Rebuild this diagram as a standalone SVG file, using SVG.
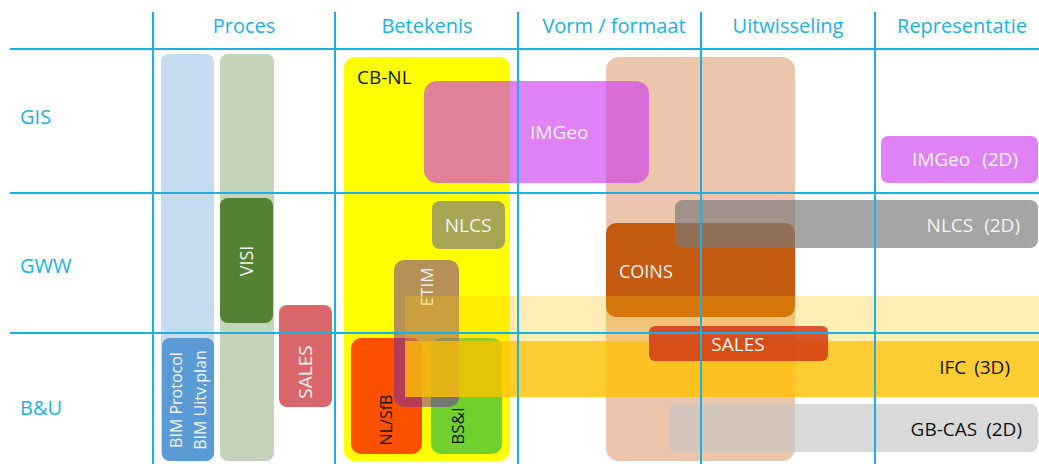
<svg xmlns="http://www.w3.org/2000/svg" width="1039" height="464" viewBox="0 0 1039 464">
<style>
text{font-family:"Open Sans","Noto Sans","DejaVu Sans",sans-serif}
.hd{font-size:20px;fill:#1BB1E7;text-anchor:middle}
.row{font-size:20px;fill:#1BB1E7}
.lw{font-size:19px;fill:#F4F4F4}
.lb{font-size:19px;fill:#111}
.grid{stroke:#1BB1E7;stroke-width:2;fill:none}
</style>
<rect width="1039" height="464" fill="#fff"/>
<g id="proces-bim-col"><rect x="161" y="54" width="53" height="407" rx="8" fill="#C5DBEF"/></g>
<g id="proces-visi-col"><rect x="220" y="54" width="54" height="407" rx="8" fill="#C4D4BA"/></g>
<g id="visi"><rect x="220" y="198" width="53" height="125" rx="8" fill="#548235"/>
<text class="lw" style="font-size:18px" transform="translate(253,261) rotate(-90)" text-anchor="middle">VISI</text></g>
<g id="sales-proces"><rect x="279" y="305" width="53" height="102" rx="8" fill="#D9666A"/>
<text class="lw" transform="translate(312,372) rotate(-90)" text-anchor="middle">SALES</text></g>
<g id="bim"><rect x="162" y="338" width="52" height="123" rx="8" fill="#5B9BD5"/>
<text class="lw" style="font-size:16px" transform="translate(182,400) rotate(-90)" text-anchor="middle">BIM Protocol</text>
<text class="lw" style="font-size:16px" transform="translate(206,400) rotate(-90)" text-anchor="middle">BIM Uitv.plan</text></g>
<g id="cb-nl"><rect x="344" y="57" width="166" height="404" rx="11" fill="#FFFF00"/>
<text class="lb" x="357" y="84">CB-NL</text></g>
<g id="vorm-col"><rect x="606" y="57" width="189" height="404" rx="13" fill="#C55A11" fill-opacity="0.35"/></g>
<g id="nlcs"><rect x="432" y="201" width="73" height="48" rx="8" fill="#7B7B7B" fill-opacity="0.68"/>
<text class="lw" x="468" y="232" text-anchor="middle">NLCS</text></g>
<g id="nl-sfb"><rect x="351" y="338" width="71" height="116" rx="10" fill="#FF5000"/>
<text class="lb" style="font-size:16px" transform="translate(392,420) rotate(-90)" text-anchor="middle">NL/SfB</text></g>
<g id="bs-i"><rect x="431" y="338" width="71" height="116" rx="10" fill="#70D02E"/>
<text class="lb" style="font-size:17px" transform="translate(464,426) rotate(-90)" text-anchor="middle">BS&amp;I</text></g>
<g id="etim"><rect x="394" y="260" width="65" height="147" rx="10" fill="#6F27AB" fill-opacity="0.51"/>
<text class="lw" style="font-size:17px" transform="translate(433,287) rotate(-90)" text-anchor="middle">ETIM</text></g>
<g id="coins"><rect x="606" y="223" width="189" height="94" rx="10" fill="#C55A11"/>
<text class="lw" style="font-size:18px" x="619" y="278">COINS</text></g>
<g id="band-light"><rect x="405" y="296" width="640" height="45" fill="#FFC000" fill-opacity="0.29"/></g>
<g id="ifc"><rect x="405" y="341" width="640" height="56" fill="#FFC000" fill-opacity="0.8"/>
<text class="lb" x="1010" y="374" text-anchor="end" word-spacing="3">IFC (3D)</text></g>
<g id="nlcs-2d"><rect x="675" y="200" width="363" height="48" rx="8" fill="#7B7B7B" fill-opacity="0.68"/>
<text class="lw" x="1020" y="232" text-anchor="end" word-spacing="6">NLCS (2D)</text></g>
<g id="imgeo"><rect x="424" y="81" width="225" height="102" rx="13" fill="#CE39EF" fill-opacity="0.63"/>
<text class="lw" x="530" y="139">IMGeo</text></g>
<g id="imgeo-2d"><rect x="881" y="136" width="157" height="47" rx="7" fill="#CE39EF" fill-opacity="0.63"/>
<text class="lw" x="1018" y="166" text-anchor="end" word-spacing="7">IMGeo (2D)</text></g>
<g id="sales-uitwisseling"><rect x="649" y="326" width="179" height="35" rx="6" fill="#D23A12" fill-opacity="0.85"/>
<text class="lw" x="738" y="351" text-anchor="middle">SALES</text></g>
<g id="gb-cas"><rect x="669" y="404" width="369" height="48" rx="8" fill="#C5C5C5" fill-opacity="0.65"/>
<text class="lb" x="1022" y="436" text-anchor="end" word-spacing="4">GB-CAS (2D)</text></g>
<g id="headers">
<text class="hd" x="244" y="33">Proces</text>
<text class="hd" x="427" y="33">Betekenis</text>
<text class="hd" x="614" y="33">Vorm / formaat</text>
<text class="hd" x="788" y="33">Uitwisseling</text>
<text class="hd" x="962" y="33">Representatie</text>
<text class="row" x="20" y="124">GIS</text>
<text class="row" x="20" y="273">GWW</text>
<text class="row" x="20" y="415">B&amp;U</text>
</g>
<g id="grid" class="grid">
<line x1="10" y1="49" x2="1039" y2="49"/>
<line x1="10" y1="193" x2="1039" y2="193"/>
<line x1="10" y1="333" x2="1039" y2="333"/>
<line x1="153" y1="12" x2="153" y2="464"/>
<line x1="335" y1="12" x2="335" y2="464"/>
<line x1="518" y1="12" x2="518" y2="464"/>
<line x1="701" y1="12" x2="701" y2="464"/>
<line x1="875" y1="12" x2="875" y2="464"/>
</g>
</svg>
